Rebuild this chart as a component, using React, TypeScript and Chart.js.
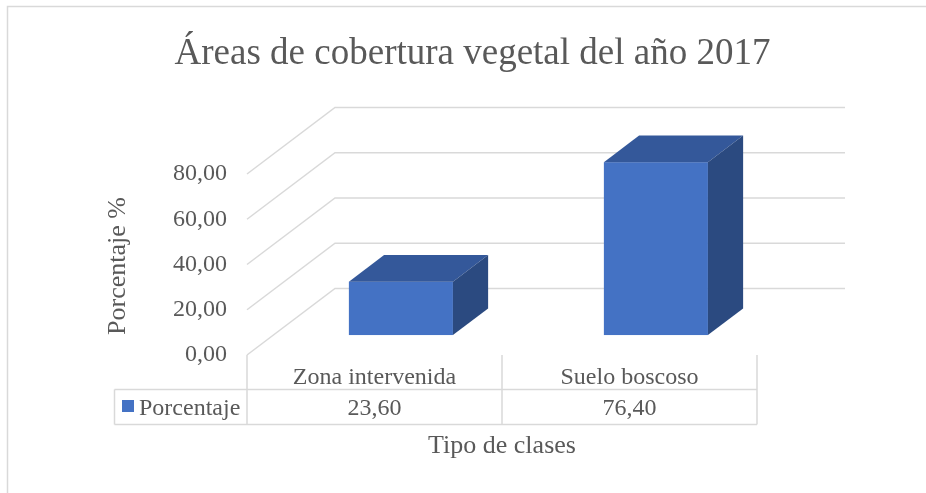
import React, { useEffect, useRef } from 'react';
import { Chart, registerables } from 'chart.js';

Chart.register(...registerables);

const chartTitle = 'Áreas de cobertura vegetal del año 2017';
const categories = ['Zona intervenida', 'Suelo boscoso'];
const seriesName = 'Porcentaje';
const values = [23.6, 76.4];
const yAxisTitle = 'Porcentaje %';
const xAxisTitle = 'Tipo de clases';
const yMin = 0;
const yMax = 80;
const yStep = 20;

const FONT = "'Liberation Serif', 'Times New Roman', Times, serif";
const TEXT = '#595959';
const GRID = '#D9D9D9';
const BAR_FRONT_COLOR = '#4472C4';
const BAR_TOP_COLOR = '#34589A';
const BAR_SIDE_COLOR = '#2B4A80';
const DEPTH = { dx: 88, dy: -66.5 };
const BAR_FRONT = 0.3;
const BAR_BACK = 0.7;

const fmt = (v: number) => v.toFixed(2).replace('.', ',');

const excel3d = {
  id: 'excel3d',
  beforeDraw(chart: any) {
    const ctx = chart.ctx;
    ctx.save();
    ctx.fillStyle = '#ffffff';
    ctx.fillRect(0, 0, chart.width, chart.height);
    ctx.strokeStyle = GRID;
    ctx.lineWidth = 1.5;
    ctx.beginPath();
    ctx.moveTo(7.5, chart.height);
    ctx.lineTo(7.5, 6.5);
    ctx.lineTo(chart.width, 6.5);
    ctx.stroke();
    ctx.fillStyle = TEXT;
    ctx.font = `37px ${FONT}`;
    ctx.textAlign = 'center';
    ctx.textBaseline = 'alphabetic';
    ctx.fillText(chartTitle, 472.5, 64);
    ctx.restore();
  },
  beforeDatasetsDraw(chart: any) {
    const { ctx, chartArea, scales } = chart;
    const ys = scales.y;
    ctx.save();
    ctx.strokeStyle = GRID;
    ctx.lineWidth = 1.5;
    ys.ticks.forEach((t: any) => {
      const py = ys.getPixelForValue(t.value);
      ctx.beginPath();
      ctx.moveTo(chartArea.left, py);
      ctx.lineTo(chartArea.left + DEPTH.dx, py + DEPTH.dy);
      ctx.lineTo(chartArea.right + DEPTH.dx, py + DEPTH.dy);
      ctx.stroke();
    });
    const meta = chart.getDatasetMeta(0);
    const fx = DEPTH.dx * BAR_FRONT;
    const fy = DEPTH.dy * BAR_FRONT;
    const ddx = DEPTH.dx * (BAR_BACK - BAR_FRONT);
    const ddy = DEPTH.dy * (BAR_BACK - BAR_FRONT);
    meta.data.forEach((bar: any) => {
      const p = bar.getProps(['x', 'y', 'base', 'width'], true);
      const l = p.x - p.width / 2 + fx;
      const r = p.x + p.width / 2 + fx;
      const t = p.y + fy;
      const b = p.base + fy;
      ctx.fillStyle = BAR_FRONT_COLOR;
      ctx.fillRect(l, t, r - l, b - t);
      ctx.fillStyle = BAR_TOP_COLOR;
      ctx.beginPath();
      ctx.moveTo(l, t);
      ctx.lineTo(r, t);
      ctx.lineTo(r + ddx, t + ddy);
      ctx.lineTo(l + ddx, t + ddy);
      ctx.closePath();
      ctx.fill();
      ctx.fillStyle = BAR_SIDE_COLOR;
      ctx.beginPath();
      ctx.moveTo(r, t);
      ctx.lineTo(r + ddx, t + ddy);
      ctx.lineTo(r + ddx, b + ddy);
      ctx.lineTo(r, b);
      ctx.closePath();
      ctx.fill();
    });
    ctx.restore();
  },
  afterDraw(chart: any) {
    const { ctx, chartArea, scales } = chart;
    const xs = scales.x;
    const n = categories.length;
    const floorY = chartArea.bottom;
    const rowTop = 389.5;
    const rowBottom = 424.5;
    const tableLeft = 114.5;
    const bounds: number[] = [];
    for (let i = 0; i <= n; i++) {
      if (i === 0) bounds.push(chartArea.left);
      else if (i === n) bounds.push(chartArea.right);
      else bounds.push((xs.getPixelForValue(i - 1) + xs.getPixelForValue(i)) / 2);
    }
    ctx.save();
    ctx.strokeStyle = GRID;
    ctx.lineWidth = 1.5;
    ctx.beginPath();
    bounds.forEach((bx) => {
      ctx.moveTo(bx, floorY);
      ctx.lineTo(bx, rowBottom);
    });
    ctx.moveTo(tableLeft, rowTop);
    ctx.lineTo(chartArea.right, rowTop);
    ctx.moveTo(tableLeft, rowBottom);
    ctx.lineTo(chartArea.right, rowBottom);
    ctx.moveTo(tableLeft, rowTop);
    ctx.lineTo(tableLeft, rowBottom);
    ctx.stroke();

    ctx.fillStyle = TEXT;
    ctx.font = `24px ${FONT}`;
    ctx.textAlign = 'center';
    ctx.textBaseline = 'alphabetic';
    categories.forEach((c, i) => {
      const cx = xs.getPixelForValue(i);
      ctx.fillText(c, cx, 384);
      ctx.fillText(fmt(values[i]), cx, 415);
    });
    ctx.textAlign = 'left';
    ctx.fillText(seriesName, 139, 415);
    ctx.fillStyle = BAR_FRONT_COLOR;
    ctx.fillRect(122, 400, 12, 12);

    ctx.fillStyle = TEXT;
    ctx.font = `26px ${FONT}`;
    ctx.textAlign = 'center';
    ctx.fillText(xAxisTitle, (chartArea.left + chartArea.right) / 2, 453);
    ctx.translate(118, 266);
    ctx.rotate(-Math.PI / 2);
    ctx.textBaseline = 'middle';
    ctx.fillText(yAxisTitle, 0, 0);
    ctx.restore();
  },
};

export default function App() {
  const ref = useRef<HTMLCanvasElement | null>(null);
  useEffect(() => {
    if (!ref.current) return;
    const chart = new Chart(ref.current, {
      type: 'bar',
      data: {
        labels: categories,
        datasets: [
          {
            label: seriesName,
            data: values,
            backgroundColor: 'rgba(0,0,0,0)',
            borderWidth: 0,
            categoryPercentage: 1,
            barPercentage: 0.408,
          },
        ],
      },
      options: {
        responsive: false,
        animation: false,
        events: [],
        layout: { padding: { left: 0, right: 169, top: 174, bottom: 138 } },
        plugins: {
          legend: { display: false },
          title: { display: false },
          tooltip: { enabled: false },
        },
        scales: {
          x: { display: false },
          y: {
            min: yMin,
            max: yMax,
            afterFit: (scale: any) => {
              scale.width = 247;
            },
            grid: { display: false, drawTicks: false },
            border: { display: false },
            ticks: {
              stepSize: yStep,
              padding: 20,
              color: TEXT,
              font: { family: FONT, size: 24 },
              callback: (v: any) => fmt(Number(v)),
            },
          },
        },
      },
      plugins: [excel3d],
    });
    return () => chart.destroy();
  }, []);
  return (
    <div style={{ position: 'fixed', left: 0, top: 0, width: 926, height: 493, background: '#fff' }}>
      <canvas ref={ref} width={926} height={493} style={{ display: 'block' }} />
    </div>
  );
}
